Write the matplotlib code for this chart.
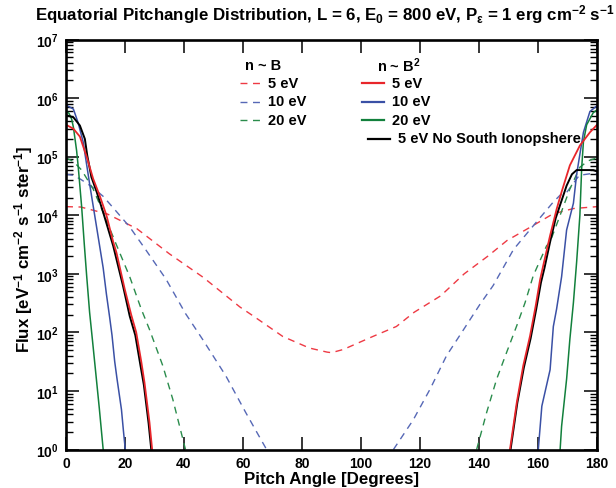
import matplotlib
matplotlib.use("Agg")
import matplotlib.pyplot as plt
import numpy as np
from matplotlib.ticker import MultipleLocator, LogLocator, NullFormatter, FuncFormatter

plt.rcParams["font.family"] = ["Liberation Sans", "DejaVu Sans"]
plt.rcParams["font.weight"] = "bold"
plt.rcParams["axes.labelweight"] = "bold"
plt.rcParams["mathtext.fontset"] = "custom"
plt.rcParams["mathtext.rm"] = "Liberation Sans:bold"
plt.rcParams["mathtext.it"] = "Liberation Sans:bold"
plt.rcParams["mathtext.bf"] = "Liberation Sans:bold"
plt.rcParams["mathtext.sf"] = "Liberation Sans:bold"
plt.rcParams["mathtext.default"] = "rm"

GAP = np.nan

# n ~ B (dashed)
angle_b_5 = [0, 5, 14, 24, 35, 46.5, 59, 63.5, 73.5, 82.5, 88.5, 90, 94, 104, 112, 118,
             127, 135, 143, 149.5, 157.5, 165, 172, 180]
flux_b_5 = [1.4e4, 1.38e4, 1.05e4, 5.9e3, 2.2e3, 8.7e2, 2.7e2, 1.9e2, 85, 54, 46, 45, 51, 85,
            1.26e2, 2.2e2, 4.2e2, 1.0e3, 2.0e3, 3.7e3, 6.3e3, 1.05e4, 1.3e4, 1.4e4]

angle_b_10 = [0, 2.5, 5, 9, 12.6, 17, 21.6, 27.2, 33.9, 40.5, 46.3, 54.2, 60.9, 65.4, 68,
              90,
              111, 117.7, 123.4, 129, 134.8, 140.3, 144.8, 151.7, 158.4, 165.1, 167.5, 169.7,
              174, 177.6, 180]
flux_b_10 = [5.0e4, 4.8e4, 4.1e4, 3.0e4, 2.1e4, 1.17e4, 6.3e3, 2.5e3, 8.1e2, 2.1e2, 76, 18,
             4.3, 1.7, 1.0,
             GAP,
             1.0, 3.2, 10.7, 40, 112, 300, 630, 2.6e3, 6.6e3, 1.66e4, 2.2e4, 2.45e4,
             4.8e4, 5.1e4, 5.1e4]

angle_b_20 = [0, 2.5, 5.3, 9.2, 12.6, 17, 21.6, 25.5, 28.3, 32.8, 36.2, 40.5,
              90,
              139.2, 142.6, 146, 149.4, 152.8, 155.6, 158.4, 162.9, 164.1, 167.5, 170.8,
              174.2, 177, 180]
flux_b_20 = [9.5e4, 8.3e4, 5.9e4, 2.8e4, 1.12e4, 3.2e3, 8.9e2, 2.5e2, 1.12e2, 27, 7.2, 1.0,
             GAP,
             1.0, 4.3, 16, 46, 1.3e2, 3.2e2, 9.3e2, 3.0e3, 3.5e3, 1.0e4, 2.8e4,
             6.6e4, 8.5e4, 9.5e4]

# n ~ B^2 (solid)
angle_b2_5 = [0, 2.5, 4.7, 7, 9.2, 11.5, 13.7, 16, 17.1, 19.9, 22.1, 23.8, 25.5, 26.6, 28.3,
              29.2,
              90,
              150.5, 152.8, 155, 157.3, 159.2, 160.7, 161.8, 164.1, 166.3, 168, 170.8,
              174.2, 177.6, 180]
flux_b2_5 = [3.5e5, 3.0e5, 2.2e5, 1.0e5, 4.2e4, 2.1e4, 1.0e4, 3.5e3, 2.3e3, 5.5e2, 2.0e2,
             1.0e2, 32, 14, 2.9, 1.0,
             GAP,
             1.0, 6.3, 27, 87, 2.8e2, 7.9e2, 1.4e3, 4.5e3, 1.26e4, 2.5e4, 7.1e4,
             1.55e5, 2.6e5, 3.5e5]

angle_b2_10 = [0, 2.5, 4.1, 5.8, 8.1, 10.3, 12.6, 13.7, 14.8, 15.6, 16.5, 17.3, 18.8, 19.5,
               20.1,
               90,
               160.1, 161.3, 164.1, 165.2, 166.3, 168, 169.7, 172, 173.1, 175.4, 177.6, 180]
flux_b2_10 = [7.6e5, 6.5e5, 3.8e5, 1.8e5, 3.2e4, 6.6e3, 1.26e3, 4.5e2, 1.8e2, 89, 32, 16,
              4.8, 2.0, 1.0,
              GAP,
              1.0, 5.5, 23, 1.26e2, 2.5e2, 8.9e2, 5.6e3, 1.6e4, 5.0e4, 2.6e5, 5.9e5, 7.4e5]

angle_b2_20 = [0, 1.0, 1.9, 2.5, 3.0, 3.6, 4.1, 5.3, 6.2, 7.0, 8.0, 9.0, 10.1, 11.3, 12.6,
               90,
               167.5, 168, 169.7, 170.8, 172, 173.1, 174.2, 174.8, 175.4, 176.5, 178.7, 180]
flux_b2_20 = [6.0e5, 5.5e5, 4.4e5, 3.2e5, 2.1e5, 1.26e5, 7.1e4, 1.4e4, 3.2e3, 9.3e2, 2.2e2,
              71, 20, 5.0, 1.0,
              GAP,
              1.0, 2.5, 16, 76, 3.2e2, 1.6e3, 1.0e4, 6.3e4, 1.8e5, 3.5e5, 5.6e5, 6.3e5]

angle_nosouth = [0, 2.5, 4.7, 6.4, 7.2, 8.6, 10.4, 12.6, 16, 19.3, 21.6, 23.5, 25.2, 26.4,
                 28, 28.9,
                 90,
                 150.7, 153, 155.2, 157.5, 159.4, 161, 162.2, 164.1, 166, 167.5, 169.7,
                 171.5, 173.1, 178.7, 180]
flux_nosouth = [5.1e5, 4.7e5, 3.4e5, 2.0e5, 1.05e5, 4.5e4, 2.5e4, 1.12e4, 3.0e3, 6.3e2,
                1.9e2, 89, 28, 12.6, 2.8, 1.0,
                GAP,
                1.0, 6.3, 25, 79, 2.5e2, 7.1e2, 1.26e3, 3.5e3, 8.9e3, 1.5e4, 3.2e4,
                5.0e4, 5.9e4, 5.9e4, 5.6e4]

W, H = 616, 489
fig = plt.figure(figsize=(W / 100, H / 100), dpi=100)
ax = fig.add_axes([66 / W, 1 - 450.5 / H, 531 / W, 410 / H])

dash = (5, 4)
ax.plot(angle_b_5, flux_b_5, color="#ee3a44", lw=1.0, dashes=dash)
ax.plot(angle_b_10, flux_b_10, color="#5668b6", lw=1.0, dashes=dash)
ax.plot(angle_b_20, flux_b_20, color="#2a8c4c", lw=1.0, dashes=dash)
ax.plot(angle_b2_10, flux_b2_10, color="#3a50a5", lw=1.1)
ax.plot(angle_b2_20, flux_b2_20, color="#12803c", lw=1.1)
ax.plot(angle_nosouth, flux_nosouth, color="black", lw=1.4)
ax.plot(angle_b2_5, flux_b2_5, color="#e8262b", lw=1.3)

ax.set_yscale("log")
ax.set_xlim(0, 180)
ax.set_ylim(1, 1e7)
ax.xaxis.set_major_locator(MultipleLocator(20))
ax.yaxis.set_major_locator(LogLocator(base=10, numticks=10))
ax.yaxis.set_minor_locator(LogLocator(base=10, subs=np.arange(2, 10), numticks=10))
ax.yaxis.set_minor_formatter(NullFormatter())
ax.yaxis.set_major_formatter(FuncFormatter(lambda v, p: "10$^{%d}$" % round(np.log10(v))))
ax.tick_params(which="both", direction="in", top=True, right=True)
ax.tick_params(which="major", length=9.5, width=1.1, labelsize=10, pad=5)
ax.tick_params(which="minor", length=5, width=1.0)
for s in ax.spines.values():
    s.set_linewidth(1.9)

ax.set_xlabel("Pitch Angle [Degrees]", fontsize=12.2, fontweight="bold")
ax.xaxis.set_label_coords(0.5, -0.052)
ax.set_ylabel("Flux [eV$^{-1}$ cm$^{-2}$ s$^{-1}$ ster$^{-1}$]", fontsize=12.2,
              fontweight="bold")
ax.yaxis.set_label_coords(-0.058, 0.49)

fig.text(35 / W, 1 - 15 / H,
         "Equatorial Pitchangle Distribution, L = 6, E$_0$ = 800 eV, "
         "P$_\\varepsilon$ = 1 erg cm$^{-2}$ s$^{-1}$",
         ha="left", va="center", fontsize=12.2)


def fxy(x, y):
    return x / W, 1 - y / H


# legend, drawn by hand
leg_fs = 10.5
fig.text(*fxy(245, 66), "n ~ B", ha="left", va="center", fontsize=leg_fs)
fig.text(*fxy(377, 66), "n ~ B$^2$", ha="left", va="center", fontsize=leg_fs)
rows = [84, 102.5, 121]
for y, c, lab in zip(rows, ["#ee3a44", "#5668b6", "#2a8c4c"], ["5 eV", "10 eV", "20 eV"]):
    x0, y0 = fxy(240, y)
    x1, _ = fxy(261, y)
    ax.plot([x0, x1], [y0, y0], color=c, lw=1.0, dashes=dash, transform=fig.transFigure,
            clip_on=False)
    fig.text(*fxy(268, y), lab, ha="left", va="center", fontsize=leg_fs)
for y, c, lab in zip(rows, ["#e8262b", "#3a50a5", "#12803c"], ["5 eV", "10 eV", "20 eV"]):
    x0, y0 = fxy(362, y)
    x1, _ = fxy(384, y)
    ax.plot([x0, x1], [y0, y0], color=c, lw=1.6, transform=fig.transFigure, clip_on=False)
    fig.text(*fxy(392, y), lab, ha="left", va="center", fontsize=leg_fs)
x0, y0 = fxy(368, 139.5)
x1, _ = fxy(390, 139.5)
ax.plot([x0, x1], [y0, y0], color="black", lw=1.6, transform=fig.transFigure, clip_on=False)
fig.text(*fxy(398, 139.5), "5 eV No South Ionopshere", ha="left", va="center",
         fontsize=leg_fs)

fig.savefig("out.png", dpi=100)
